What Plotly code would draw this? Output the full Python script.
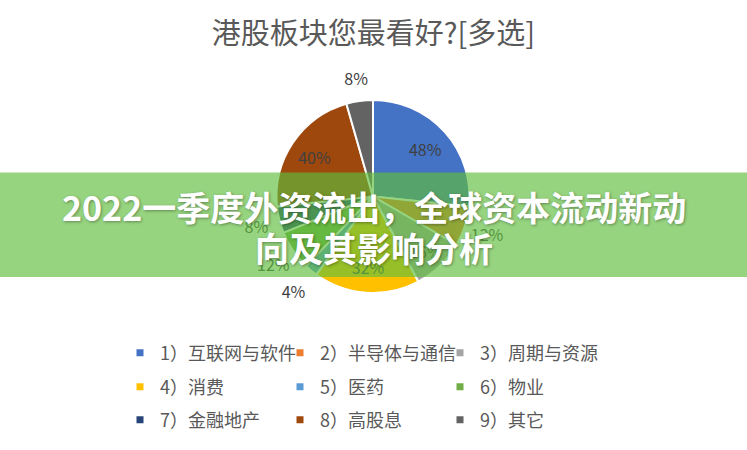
import plotly.graph_objects as go

# ---- data ----
categories = ["1）互联网与软件", "2）半导体与通信", "3）周期与资源",
              "4）消费", "5）医药", "6）物业",
              "7）金融地产", "8）高股息", "9）其它"]
values = [48, 12, 16, 32, 4, 12, 8, 40, 8]
colors = ["#4472C4", "#ED7D31", "#A5A5A5", "#FFC000", "#5B9BD5",
          "#70AD47", "#264478", "#9E480E", "#636363"]
label_inside = [True, False, True, True, False, False, False, True, False]
legend_rows = [[0, 1, 2], [3, 4, 5], [6, 7, 8]]
title_text = "港股板块您最看好?[多选]"
banner_lines = ["2022一季度外资流出，全球资本流动新动", "向及其影响分析"]

# ---- layout constants (pixels) ----
W, H = 747, 450
cx, cy, R = 373, 196.5, 96.5
R_OUT = 132                      # outer label ring radius
FONT = "Noto Sans CJK SC"
row_y = [353, 387, 420]
banner_y = [207, 247]
legend_left = 120


def dom(rad):
    return dict(x=[(cx - rad) / W, (cx + rad) / W],
                y=[(H - cy - rad) / H, (H - cy + rad) / H])


pie_common = dict(values=values, labels=categories, sort=False,
                  direction="clockwise", rotation=0, showlegend=False,
                  hoverinfo="skip", insidetextorientation="horizontal",
                  textposition="inside",
                  textfont=dict(size=16, color="#404040", family=FONT))

# main pie (no text)
fig = go.Figure()
fig.add_trace(go.Pie(
    **pie_common,
    marker=dict(colors=colors, line=dict(color="white", width=2)),
    texttemplate=["" for _ in values], domain=dom(R),
))
# transparent overlay carrying the inside labels
fig.add_trace(go.Pie(
    **pie_common, hole=0.46,
    marker=dict(colors=["rgba(0,0,0,0)"] * len(values), line=dict(width=0)),
    texttemplate=["%{value}%" if f else "" for f in label_inside],
    domain=dom(R),
))
# transparent outer ring carrying the outside labels
fig.add_trace(go.Pie(
    **pie_common, hole=0.82,
    marker=dict(colors=["rgba(0,0,0,0)"] * len(values), line=dict(width=0)),
    texttemplate=["" if f else "%{value}%" for f in label_inside],
    domain=dom(R_OUT),
))

legend_names = ["legend", "legend2", "legend3"]
for r, idxs in enumerate(legend_rows):
    for i in idxs:
        fig.add_trace(go.Scatter(
            x=[None], y=[None], mode="markers", name=categories[i],
            marker=dict(symbol="square", size=7, color=colors[i]),
            legend=legend_names[r], hoverinfo="skip",
        ))

leg_common = dict(orientation="h", entrywidth=115, entrywidthmode="pixels",
                  xanchor="left", yanchor="middle", x=legend_left / W,
                  font=dict(size=18, color="#595959", family=FONT),
                  bgcolor="rgba(0,0,0,0)", itemwidth=30, traceorder="normal")

annotations = [dict(text=t, x=0.5, y=(H - yy) / H, xref="paper", yref="paper",
                    showarrow=False, xanchor="center", yanchor="middle",
                    font=dict(size=34, color="white", family=FONT, weight="bold",
                              shadow="1px 1px 3px rgba(0,0,0,0.35)"))
               for t, yy in zip(banner_lines, banner_y)]

fig.update_layout(
    width=W, height=H,
    margin=dict(l=0, r=0, t=0, b=0),
    paper_bgcolor="white", plot_bgcolor="white",
    xaxis=dict(visible=False), yaxis=dict(visible=False),
    uniformtext=dict(minsize=16, mode="show"),
    hovermode=False,
    title=dict(text=title_text, x=0.5, xanchor="center",
               y=1 - 34 / H, yref="container", yanchor="middle",
               font=dict(size=29, color="#595959", family=FONT)),
    legend=dict(leg_common, y=(H - row_y[0]) / H),
    legend2=dict(leg_common, y=(H - row_y[1]) / H),
    legend3=dict(leg_common, y=(H - row_y[2]) / H),
    shapes=[dict(type="rect", xref="paper", yref="paper",
                 x0=0, x1=1, y0=(H - 277) / H, y1=(H - 172.5) / H,
                 fillcolor="rgba(95,190,60,0.66)", line=dict(width=0),
                 layer="above")],
    annotations=annotations,
)

fig.write_html("out.html", config={"displayModeBar": False},
               post_script="document.body.style.margin='0';")
